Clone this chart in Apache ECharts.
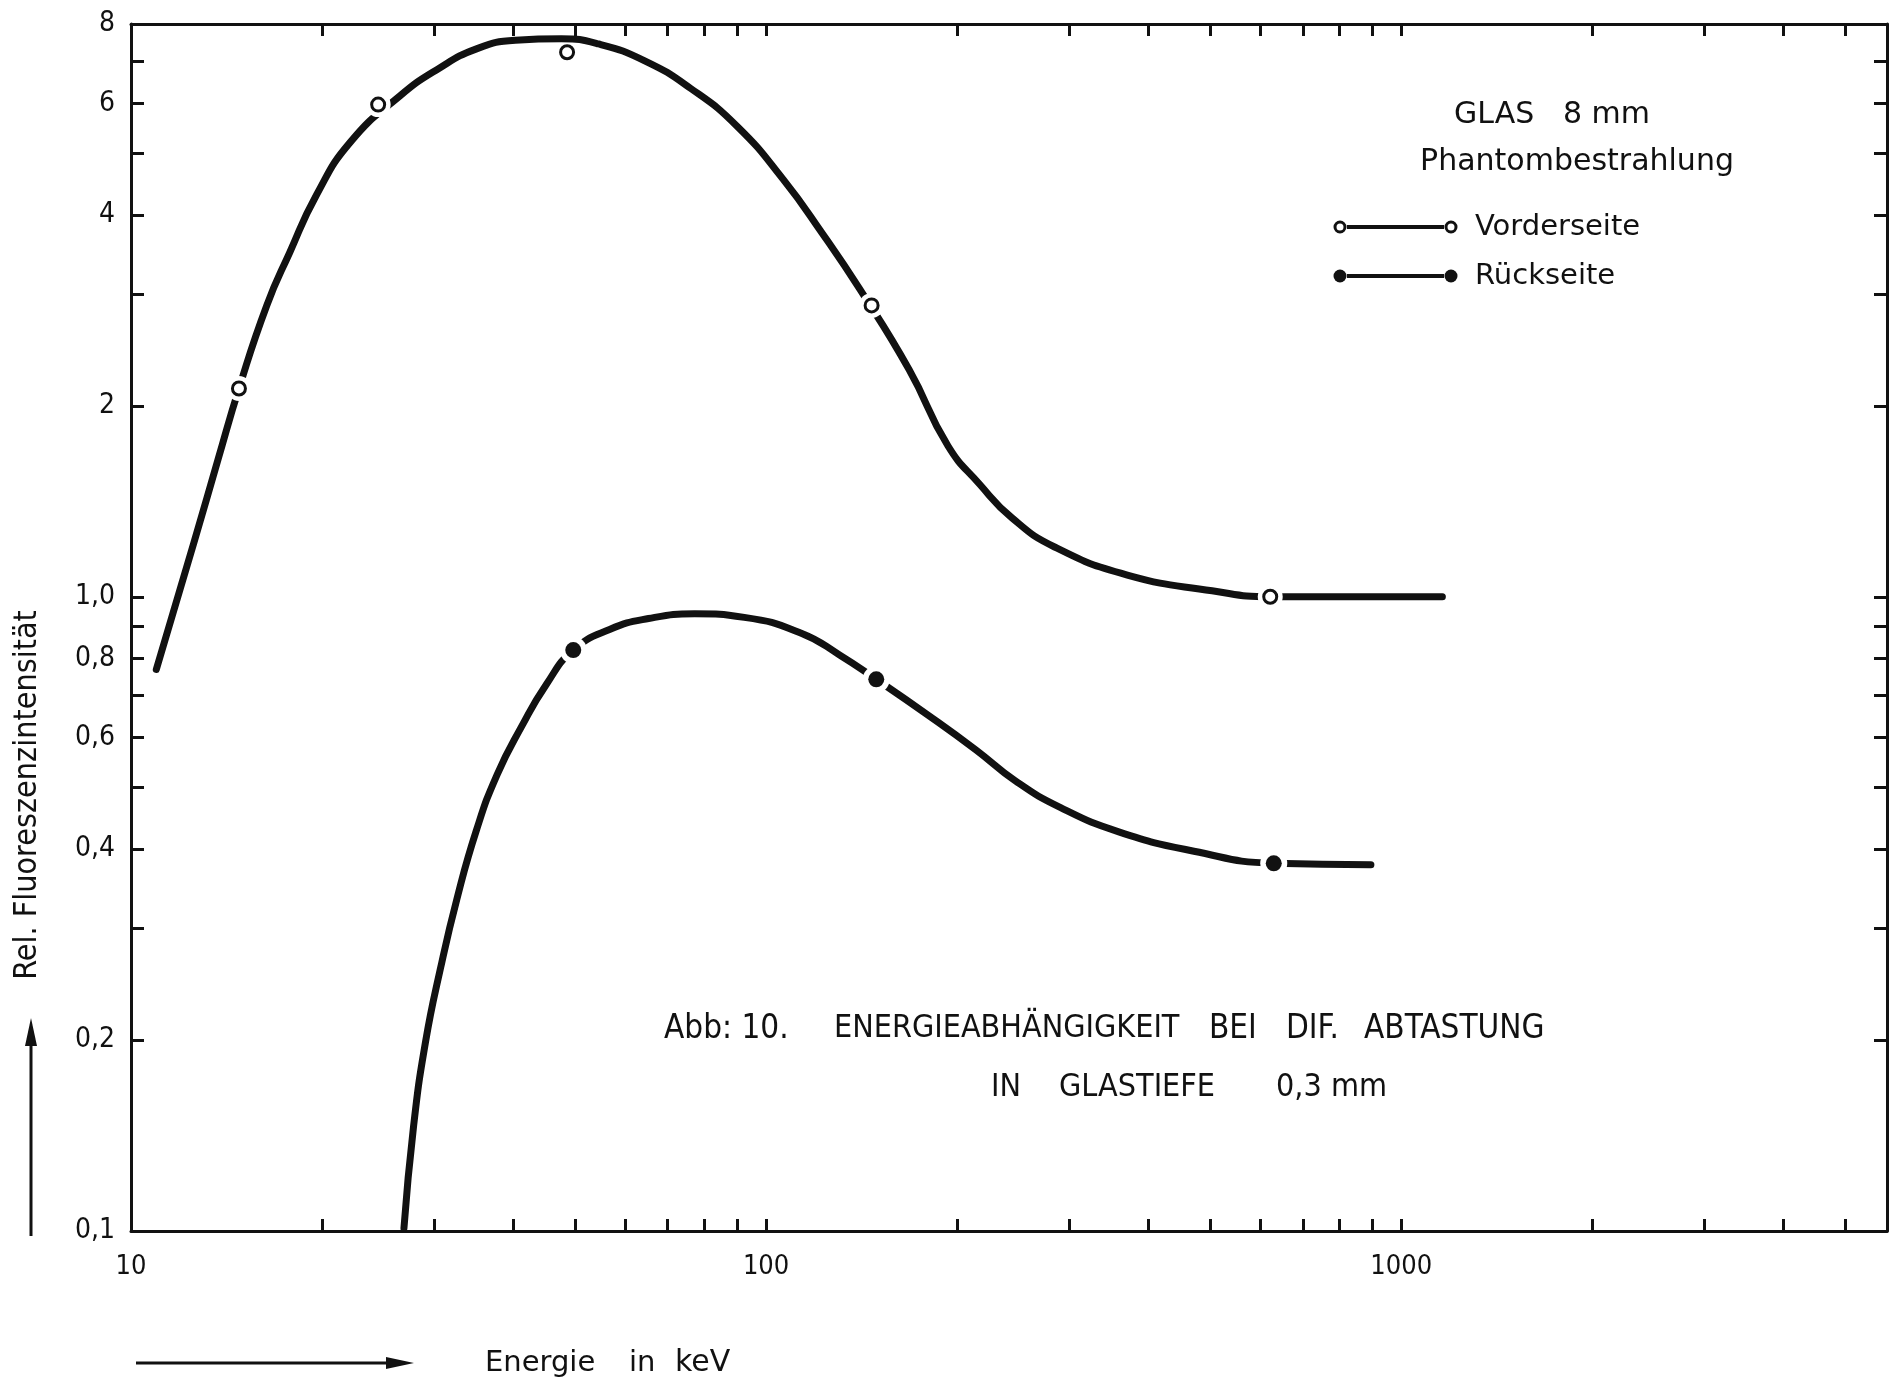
<!DOCTYPE html>
<html>
<head>
<meta charset="utf-8">
<title>Energieabhängigkeit</title>
<script src="https://cdn.jsdelivr.net/npm/echarts@6/dist/echarts.min.js"></script>
<style>
html, body { margin: 0; padding: 0; background: #fff; }
#main { width: 1900px; height: 1384px; }
</style>
</head>
<body>
<div id="main"></div>
<script>

// Vorderseite - Kurve (Energie keV / rel. Intensität)
var vorderE = [10.96, 12.57, 13.72, 14.79, 16.36, 17.78, 19.59, 22.15, 26.5, 30.4, 35.0, 40.3, 47.6, 54.5, 64.4, 76.1, 90.0, 106.4, 122.4, 140.3, 168, 193.3, 216.7, 244, 284.6, 370.5, 503.8, 622, 800, 1161];
var vorderV = [0.768, 1.22, 1.65, 2.13, 2.88, 3.49, 4.30, 5.21, 6.16, 6.79, 7.31, 7.54, 7.58, 7.44, 7.00, 6.33, 5.52, 4.55, 3.75, 3.06, 2.28, 1.73, 1.506, 1.331, 1.198, 1.082, 1.022, 1.0, 1.0, 1.0];
// Vorderseite - Messpunkte
var vorderPunktE = [14.79, 24.5, 48.6, 146.6, 622];
var vorderPunktV = [2.13, 5.97, 7.22, 2.88, 1.0];

// Rückseite - Kurve
var rueckE = [26.9, 27.85, 29.1, 30.7, 32.6, 35.0, 37.7, 41.2, 45.1, 49.7, 56.7, 65.3, 77.2, 92.4, 113.6, 130.7, 149.1, 179.4, 213.8, 247.2, 290.9, 359.2, 471.7, 630, 896];
var rueckV = [0.101, 0.146, 0.199, 0.259, 0.334, 0.429, 0.524, 0.624, 0.728, 0.824, 0.888, 0.924, 0.940, 0.928, 0.876, 0.809, 0.741, 0.652, 0.574, 0.512, 0.465, 0.426, 0.397, 0.380, 0.378];
// Rückseite - Messpunkte
var rueckPunktE = [49.7, 149.1, 630];
var rueckPunktV = [0.824, 0.741, 0.380];

// Achsen
var xTicks = [10, 20, 30, 40, 50, 60, 70, 80, 90, 100, 200, 300, 400, 500, 600, 700, 800, 900, 1000, 2000, 3000, 4000, 5000];
var xLabels = [10, 100, 1000];
var yTicks = [0.1, 0.2, 0.3, 0.4, 0.5, 0.6, 0.7, 0.8, 0.9, 1, 2, 3, 4, 5, 6, 7, 8];
var yLabels = [0.1, 0.2, 0.4, 0.6, 0.8, 1, 2, 4, 6, 8];

var ink = '#111';
var font = 'DejaVu Sans';
var fontCond = 'DejaVu Sans Condensed';

function paare(xs, ys) {
	var out = [];
	for (var i = 0; i < xs.length; i++) {
		out.push([xs[i], ys[i]]);
	}
	return out;
}

// deutsche Schreibweise 0,4 / 1,0 / 2
function yFormat(v) {
	if (v < 1) return v.toFixed(1).replace('.', ',');
	if (Math.abs(v - 1) < 1e-9) return '1,0';
	return String(Math.round(v));
}

function xFormat(v) {
	return String(Math.round(v));
}

function xAchse(pos, labels) {
	return {
		type: 'log',
		logBase: 10,
		min: 10,
		max: 5820,
		position: pos,
		axisLine: { show: true, lineStyle: { color: ink, width: 3 } },
		axisTick: { show: true, inside: true, length: 12, customValues: xTicks, lineStyle: { color: ink, width: 3 } },
		axisLabel: { show: labels, customValues: xLabels, color: ink, fontSize: 27, fontFamily: fontCond, margin: 22, formatter: xFormat },
		splitLine: { show: false }
	};
}

function yAchse(pos, labels) {
	return {
		type: 'log',
		logBase: 10,
		min: 0.1,
		max: 8,
		position: pos,
		axisLine: { show: true, lineStyle: { color: ink, width: 3 } },
		axisTick: { show: true, inside: true, length: 13, customValues: yTicks, lineStyle: { color: ink, width: 3 } },
		axisLabel: { show: labels, customValues: yLabels, color: ink, fontSize: 28, fontFamily: fontCond, margin: 16, formatter: yFormat },
		splitLine: { show: false }
	};
}

function text(x, y, str, size, fam, align) {
	return {
		type: 'text', x: x, y: y,
		style: { text: str, fill: ink, fontSize: size, fontFamily: fam, align: align || 'left', verticalAlign: 'middle' }
	};
}

var myChart = echarts.init(document.getElementById("main"));

var option = {
	backgroundColor: '#fff',
	animation: false,
	grid: { left: 131, right: 13, top: 24, bottom: 153, containLabel: false },
	xAxis: [xAchse('bottom', true), xAchse('top', false)],
	yAxis: [yAchse('left', true), yAchse('right', false)],
	series: [
		{
			name: 'Vorderseite', type: 'line', smooth: 0.5, symbol: 'none', z: 2,
			data: paare(vorderE, vorderV),
			lineStyle: { color: ink, width: 7, cap: 'round' }
		},
		{
			name: 'Rückseite', type: 'line', smooth: 0.5, symbol: 'none', z: 2,
			data: paare(rueckE, rueckV),
			lineStyle: { color: ink, width: 7, cap: 'round' }
		},
		// Lücken in der Linie um die Messpunkte
		{
			type: 'scatter', symbol: 'circle', silent: true, z: 3,
			symbolSize: function(val, params) { return params.dataIndex === 2 ? 0 : 25; },
			data: paare(vorderPunktE, vorderPunktV),
			itemStyle: { color: '#fff', opacity: 1 }
		},
		{
			type: 'scatter', symbol: 'circle', symbolSize: 27, silent: true, z: 3,
			data: paare(rueckPunktE, rueckPunktV),
			itemStyle: { color: '#fff', opacity: 1 }
		},
		// Messpunkte
		{
			type: 'scatter', symbol: 'circle', symbolSize: 13, z: 4,
			data: paare(vorderPunktE, vorderPunktV),
			itemStyle: { color: '#fff', borderColor: ink, borderWidth: 3, opacity: 1 }
		},
		{
			type: 'scatter', symbol: 'circle', symbolSize: 16, z: 4,
			data: paare(rueckPunktE, rueckPunktV),
			itemStyle: { color: ink, opacity: 1 }
		}
	],
	graphic: [
		// y-Achsenbeschriftung mit Pfeil
		{
			type: 'text', x: 28, y: 795, rotation: Math.PI / 2,
			style: { text: 'Rel. Fluoreszenzintensität', fill: ink, fontSize: 32, fontFamily: fontCond, align: 'center', verticalAlign: 'middle' }
		},
		{ type: 'line', shape: { x1: 31, y1: 1236, x2: 31, y2: 1040 }, style: { stroke: ink, lineWidth: 3 } },
		{ type: 'polygon', shape: { points: [[31, 1018], [25, 1046], [37, 1046]] }, style: { fill: ink } },
		// x-Achsenbeschriftung mit Pfeil
		{ type: 'line', shape: { x1: 136, y1: 1363, x2: 395, y2: 1363 }, style: { stroke: ink, lineWidth: 3 } },
		{ type: 'polygon', shape: { points: [[414, 1363], [386, 1357], [386, 1369]] }, style: { fill: ink } },
		text(485, 1363, 'Energie', 29, font),
		text(629, 1363, 'in', 29, font),
		text(675, 1363, 'keV', 30, font),
		// Kopf rechts
		text(1454, 115, 'GLAS', 30, font),
		text(1563, 115, '8 mm', 30, font),
		text(1577, 162, 'Phantombestrahlung', 30, font, 'center'),
		// Legende
		{ type: 'line', shape: { x1: 1347, y1: 227, x2: 1444, y2: 227 }, style: { stroke: ink, lineWidth: 4 } },
		{ type: 'circle', shape: { cx: 1340, cy: 227, r: 5 }, style: { fill: '#fff', stroke: ink, lineWidth: 3 } },
		{ type: 'circle', shape: { cx: 1451, cy: 227, r: 5 }, style: { fill: '#fff', stroke: ink, lineWidth: 3 } },
		text(1475, 227, 'Vorderseite', 29, font),
		{ type: 'line', shape: { x1: 1347, y1: 276, x2: 1444, y2: 276 }, style: { stroke: ink, lineWidth: 4 } },
		{ type: 'circle', shape: { cx: 1340, cy: 276, r: 6.5 }, style: { fill: ink } },
		{ type: 'circle', shape: { cx: 1451, cy: 276, r: 6.5 }, style: { fill: ink } },
		text(1475, 276, 'Rückseite', 29, font),
		// Bildunterschrift
		text(664, 1029, 'Abb: 10.', 33, fontCond),
		text(834, 1029, 'ENERGIEABHÄNGIGKEIT', 32, fontCond),
		text(1209, 1029, 'BEI', 33, fontCond),
		text(1286, 1029, 'DIF.', 33, fontCond),
		text(1364, 1029, 'ABTASTUNG', 33, fontCond),
		text(991, 1088, 'IN', 32, fontCond),
		text(1059, 1088, 'GLASTIEFE', 32, fontCond),
		text(1276, 1088, '0,3 mm', 32, fontCond)
	]
};

myChart.setOption(option);

</script>
</body>
</html>
